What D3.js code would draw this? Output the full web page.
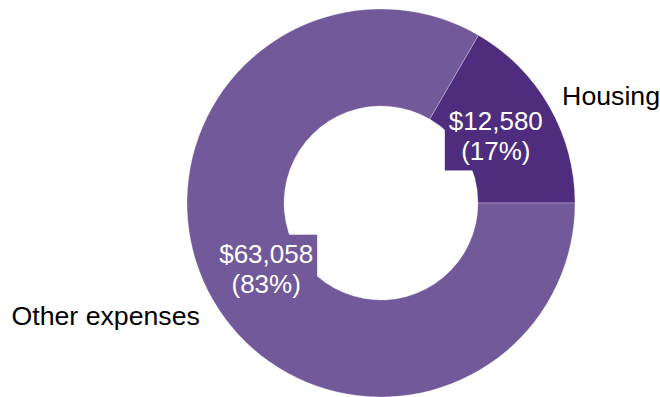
<!DOCTYPE html>
<html>
<head>
<meta charset="utf-8">
<script src="https://cdn.jsdelivr.net/npm/d3@7"></script>
<style>
  html, body { margin: 0; padding: 0; background: #fff; }
  svg { display: block; }
  text { font-family: "Liberation Sans", Arial, sans-serif; }
</style>
</head>
<body>
<svg id="chart" width="660" height="397"></svg>
<script>
// Annual spending split
const categories = ["Housing", "Other expenses"];
const amounts = [12580, 63058];
const colors = ["#4f2d7e", "#72599a"];

const width = 660, height = 397;
const cx = 381, cy = 203;
const outerR = 194, innerR = 97;
const valueR = 132.5, nameR = 209;
const fontSize = 26, nameSize = 26.7, lineH = 30, pad = 4;

const svg = d3.select("#chart");
const g = svg.append("g").attr("transform", `translate(${cx},${cy})`);

const total = d3.sum(amounts);
const rows = categories.map((c, i) => ({ name: c, value: amounts[i], color: colors[i] }));

// Slices run counter-clockwise from 3 o'clock
const pie = d3.pie()
  .value(d => d.value)
  .sort(null)
  .startAngle(Math.PI / 2)
  .endAngle(Math.PI / 2 - 2 * Math.PI);

const arcs = pie(rows);
const arc = d3.arc().innerRadius(innerR).outerRadius(outerR);
const valueArc = d3.arc().innerRadius(valueR).outerRadius(valueR);

g.selectAll("path.slice")
  .data(arcs)
  .join("path")
  .attr("class", "slice")
  .attr("d", arc)
  .attr("fill", d => d.data.color)
  .attr("stroke", "rgba(255,255,255,0.35)")
  .attr("stroke-width", 0.8);

const fmt = d3.format("$,");
const pct = d3.format(".0%");

// Value labels on boxes filled with the slice colour
arcs.forEach(d => {
  const [x, y] = valueArc.centroid(d);
  const lg = g.append("g");
  const rect = lg.append("rect").attr("fill", d.data.color);
  const t = lg.append("text")
    .attr("text-anchor", "middle")
    .attr("font-size", fontSize)
    .attr("fill", "#fff");
  t.append("tspan").attr("x", x).attr("y", y - lineH / 2 + 0.33 * fontSize)
    .text(fmt(d.data.value));
  t.append("tspan").attr("x", x).attr("y", y + lineH / 2 + 0.33 * fontSize)
    .text("(" + pct(d.data.value / total) + ")");
  const b = t.node().getBBox();
  rect.attr("x", b.x - pad).attr("y", b.y - pad)
    .attr("width", b.width + 2 * pad).attr("height", b.height + 2 * pad);
});

// Category names outside the ring, pushed outward from their anchor point
arcs.forEach(d => {
  const a = (d.startAngle + d.endAngle) / 2;
  const x = nameR * Math.sin(a);
  const y = -nameR * Math.cos(a);
  g.append("text")
    .attr("x", x)
    .attr("y", y + nameSize * (0.455 - 0.44 * Math.cos(a)))
    .attr("text-anchor", Math.sin(a) >= 0 ? "start" : "end")
    .attr("font-size", nameSize)
    .attr("fill", "#000")
    .text(d.data.name);
});
</script>
</body>
</html>
